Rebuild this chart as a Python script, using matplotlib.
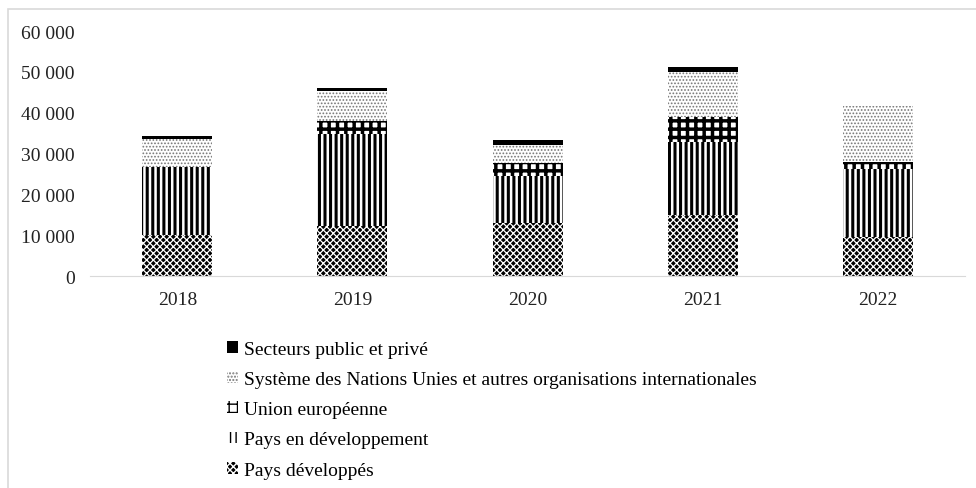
import matplotlib
matplotlib.use("Agg")
import matplotlib.pyplot as plt
from matplotlib.patches import Rectangle
from matplotlib.ticker import FuncFormatter
import numpy as np

plt.rcParams['font.family'] = ['Liberation Serif', 'DejaVu Serif']

years = ['2018', '2019', '2020', '2021', '2022']
series = [
    'Pays développés',
    'Pays en développement',
    'Union européenne',
    'Système des Nations Unies et autres organisations internationales',
    'Secteurs public et privé',
]
pays_dev = [10000, 12300, 12900, 15000, 9500]
pays_en_dev = [16600, 22500, 11700, 17900, 16700]
union_eu = [0, 3100, 3000, 6100, 1700]
systeme_nu = [7000, 7400, 4500, 11000, 13700]
secteurs = [700, 800, 1200, 1100, 100]
values = [pays_dev, pays_en_dev, union_eu, systeme_nu, secteurs]

# style per series: (face, hatch colour, hatch)
styles = [
    ('black', 'white', 'xxxxx'),
    ('white', 'black', '|||'),
    ('white', 'black', '++'),
    ('white', '#777777', '.....'),
    ('black', 'black', ''),
]
hatch_lw = [0.9, 2.2, 2.5, 0.8, 1.0]

fig = plt.figure(figsize=(9.76, 4.89), dpi=100)
ax = fig.add_axes([0.092, 0.4335, 0.897, 0.501])

x = np.arange(len(years))
bottom = np.zeros(len(years))
handles = []
for name, vals, (fc, hc, hatch), lw in zip(series, values, styles, hatch_lw):
    with plt.rc_context({'hatch.linewidth': lw}):
        bars = ax.bar(x, vals, 0.4, bottom=bottom, color=fc, edgecolor=hc,
                      hatch=hatch, linewidth=0, label=name)
    bottom += np.array(vals)
    handles.append(bars)

ax.set_xlim(-0.5, 4.5)
ax.set_ylim(0, 60000)
ax.set_yticks(np.arange(0, 60001, 10000))
ax.yaxis.set_major_formatter(FuncFormatter(lambda v, p: f"{int(v):,}".replace(',', ' ')))
ax.set_xticks(x)
ax.set_xticklabels(years)
ax.tick_params(axis='both', length=0, labelsize=14, colors='#222222')
ax.tick_params(axis='y', pad=11)
ax.tick_params(axis='x', pad=11)
for s in ['top', 'right', 'left']:
    ax.spines[s].set_visible(False)
ax.spines['bottom'].set_color('#d9d9d9')

leg = fig.legend(handles[::-1], series[::-1], loc='upper left',
                 bbox_to_anchor=(0.225, 0.317), frameon=False, fontsize=14,
                 handlelength=0.55, handleheight=0.55, handletextpad=0.3,
                 labelspacing=0.68, borderaxespad=0)

# outer light frame
fig.patches.append(Rectangle((0.0082, -0.1), 1.2, 1.0796, transform=fig.transFigure,
                             fill=False, edgecolor='#d9d9d9', linewidth=1.2))

fig.savefig('out.png', dpi=100)
